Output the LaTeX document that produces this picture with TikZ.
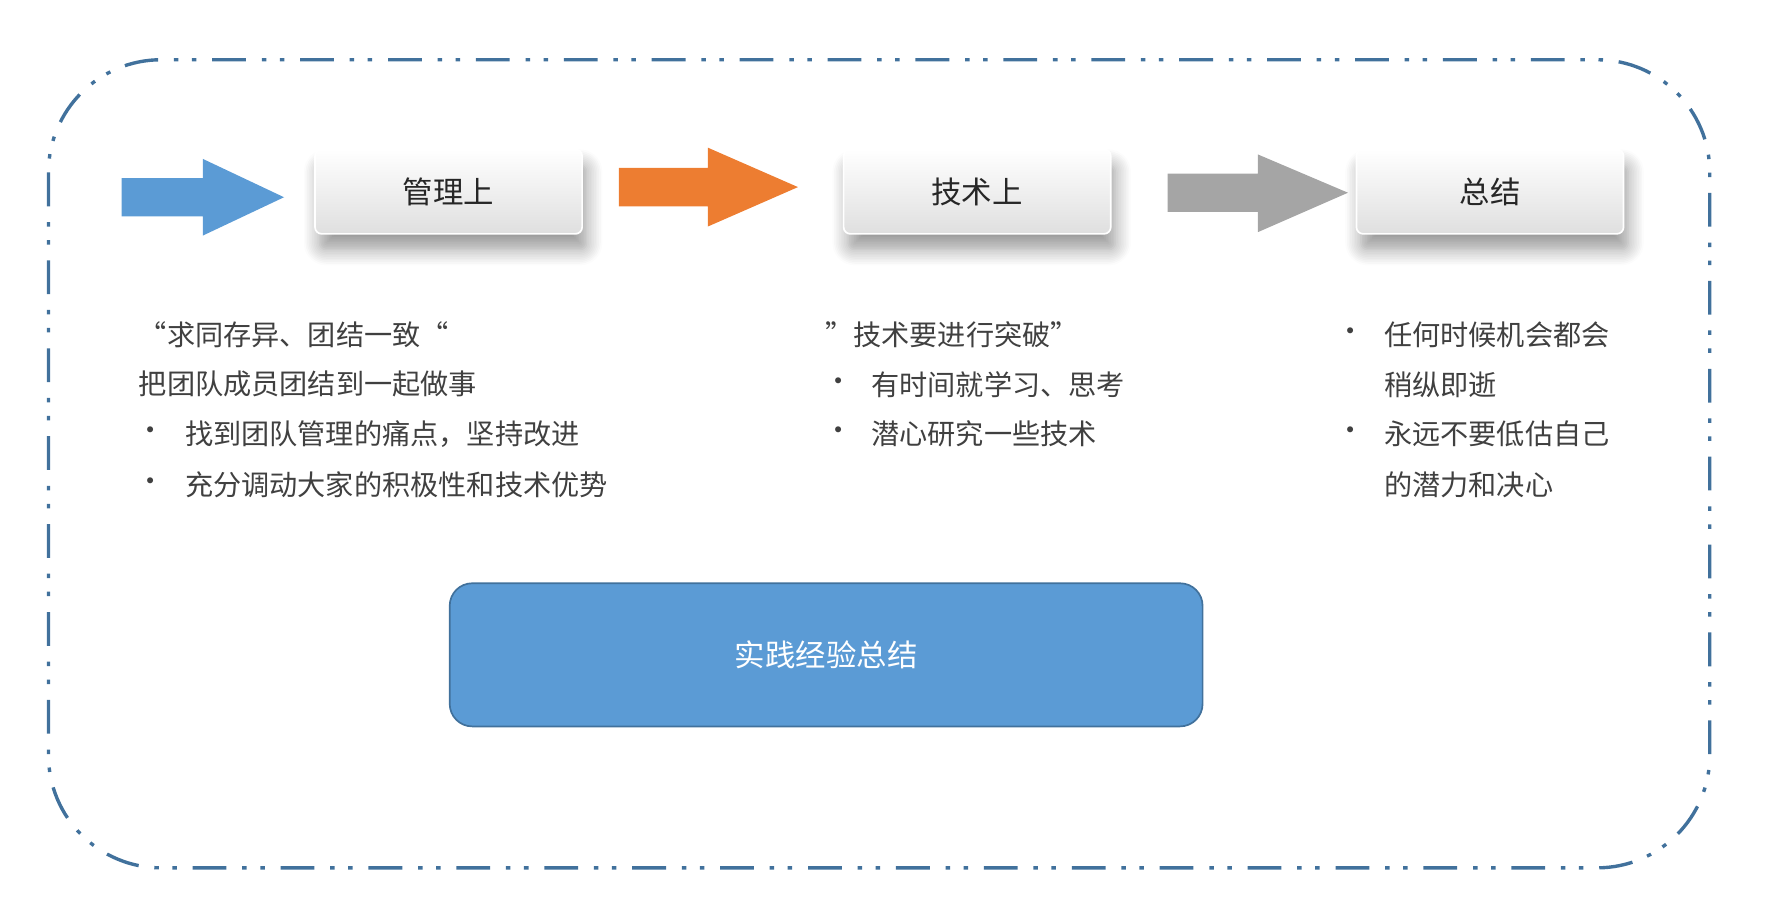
\documentclass[tikz,border=0pt]{standalone}
\usepackage{fontspec}
\setmainfont{Noto Sans CJK SC}
\usetikzlibrary{shadows.blur}
\definecolor{bd}{HTML}{41719C}
\definecolor{bl}{HTML}{5B9BD5}
\definecolor{og}{HTML}{ED7D31}
\definecolor{gy}{HTML}{A5A5A5}
\definecolor{tx}{HTML}{404040}
\begin{document}
\begin{tikzpicture}[x=1pt,y=-1pt,
  hbox/.style={rounded corners=6pt,minimum width=237pt,minimum height=75pt,top color=white,bottom color=gray!25,draw=white,line width=1.5pt,blur shadow={shadow xshift=4pt,shadow yshift=-14pt,shadow blur steps=10,shadow blur radius=14pt},font=\fontsize{27}{30}\selectfont,text=black!85},
  txt/.style={anchor=west,inner sep=0,text=tx,font=\fontsize{25}{28}\selectfont}]
\useasboundingbox (0,0) rectangle (1566,816);
\draw[bd,line width=3pt,rounded corners=100pt,dash pattern=on 30pt off 14pt on 4pt off 12pt on 4pt off 14pt] (43,53) rectangle (1517,770);
\fill[bl] (108,158)--(180,158)--(180,141)--(252,175)--(180,209)--(180,192)--(108,192)--cycle;
\fill[og] (549,149)--(628,149)--(628,131)--(708,166)--(628,201)--(628,183)--(549,183)--cycle;
\fill[gy] (1036,154)--(1116,154)--(1116,137)--(1196,171)--(1116,206)--(1116,188)--(1036,188)--cycle;
\node[hbox] (b1) at (398,170) {管理上};
\node[hbox] (b2) at (867,170) {技术上};
\node[hbox] (b3) at (1322,170) {总结};
\node[txt] (l1) at (123,297) {“求同存异、团结一致“};
\node[txt] (l2) at (123,341) {把团队成员团结到一起做事};
\node[txt] (l3a) at (121,385) {•};
\node[txt] (l3) at (164,385) {找到团队管理的痛点，坚持改进};
\node[txt] (l4a) at (121,430) {•};
\node[txt] (l4) at (164,430) {充分调动大家的积极性和技术优势};
\node[txt] (m1) at (732,297) {”技术要进行突破”};
\node[txt] (m2a) at (731,341) {•};
\node[txt] (m2) at (773,341) {有时间就学习、思考};
\node[txt] (m3a) at (731,385) {•};
\node[txt] (m3) at (773,385) {潜心研究一些技术};
\node[txt] (r1a) at (1186,297) {•};
\node[txt] (r1) at (1228,297) {任何时候机会都会};
\node[txt] (r2) at (1228,341) {稍纵即逝};
\node[txt] (r3a) at (1186,385) {•};
\node[txt] (r3) at (1228,385) {永远不要低估自己};
\node[txt] (r4) at (1228,430) {的潜力和决心};
\node[draw=bd,fill=bl,line width=1.5pt,rounded corners=20pt,minimum width=668pt,minimum height=127pt,text=white,font=\fontsize{27}{30}\selectfont] (main) at (733,581) {实践经验总结};
\end{tikzpicture}
\end{document}
